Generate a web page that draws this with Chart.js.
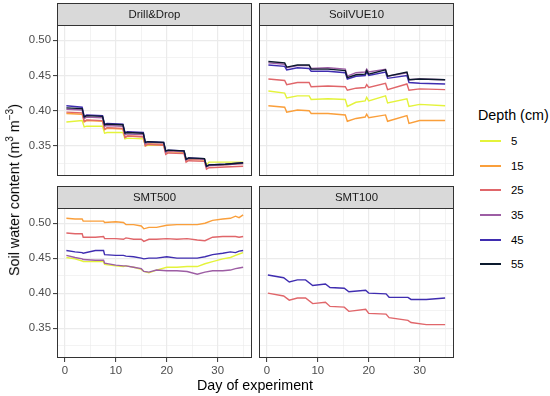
<!DOCTYPE html>
<html>
<head>
<meta charset="utf-8">
<script src="https://cdn.jsdelivr.net/npm/chart.js@4.4.0/dist/chart.umd.min.js"></script>
<style>
  body { margin: 0; background: #fff; width: 550px; height: 396px; position: relative; overflow: hidden;
         font-family: "Liberation Sans", Arial, sans-serif; }
  canvas { position: absolute; }
  .ytitle { position: absolute; left: 13px; top: 190px; transform: translate(-50%, -50%) rotate(-90deg);
            white-space: nowrap; font-size: 14.3px; color: #000; }
  .xtitle { position: absolute; left: 255px; top: 385px; transform: translate(-50%, -50%);
            white-space: nowrap; font-size: 14.3px; color: #000; }
  #legend { position: absolute; left: 478px; top: 106px; }
  #legend .ttl { font-size: 14.3px; color: #000; height: 18px; line-height: 18px; margin-bottom: 5px; }
  #legend .item { height: 24.6px; display: flex; align-items: center; font-size: 11.4px; color: #000; }
  #legend .key { width: 21px; height: 2px; margin: 0 10px 0 2px; }
</style>
</head>
<body>
<canvas id="pDD" width="256" height="174" style="left:0;top:3px"></canvas>
<canvas id="pSV" width="200" height="174" style="left:258px;top:3px"></canvas>
<canvas id="p500" width="256" height="193" style="left:0;top:185px"></canvas>
<canvas id="p100" width="200" height="193" style="left:258px;top:185px"></canvas>
<div class="ytitle">Soil water content (m<sup style="font-size:10px">3</sup> m<sup style="font-size:10px">−3</sup>)</div>
<div class="xtitle">Day of experiment</div>
<div id="legend"></div>
<script>
// --- data ---
const depths = [5, 15, 25, 35, 45, 55];
const yTicks = [0.35, 0.40, 0.45, 0.50];
const yMinor = [0.325, 0.375, 0.425, 0.475];
const xTicks = [0, 10, 20, 30];
const xMinor = [5, 15, 25, 35];

// Drill&Drop
const ddDays = [0.3, 3.4, 3.8, 4.3, 7.4, 7.8, 8.3, 11.4, 11.8, 12.3, 15.4, 15.8, 16.3, 19.4, 19.8, 20.3, 23.4, 23.8, 24.3, 27.4, 27.8, 28.3, 31.5, 35];
const dd5  = [0.384, 0.386, 0.377, 0.378, 0.378, 0.368, 0.369, 0.369, 0.360, 0.361, 0.360, 0.350, 0.351, 0.351, 0.341, 0.342, 0.342, 0.331, 0.332, 0.332, 0.323, 0.327, 0.327, 0.327];
const dd15 = [0.396, 0.395, 0.384, 0.386, 0.385, 0.373, 0.375, 0.374, 0.362, 0.364, 0.363, 0.351, 0.353, 0.352, 0.340, 0.342, 0.341, 0.329, 0.331, 0.330, 0.320, 0.322, 0.323, 0.325];
const dd25 = [0.398, 0.397, 0.385, 0.387, 0.386, 0.374, 0.376, 0.375, 0.362, 0.364, 0.363, 0.350, 0.352, 0.351, 0.338, 0.340, 0.339, 0.327, 0.329, 0.328, 0.317, 0.319, 0.320, 0.321];
const dd35 = [0.402, 0.401, 0.389, 0.391, 0.390, 0.378, 0.379, 0.378, 0.366, 0.367, 0.366, 0.353, 0.355, 0.354, 0.341, 0.343, 0.342, 0.330, 0.332, 0.331, 0.320, 0.322, 0.323, 0.325];
const dd45 = [0.407, 0.405, 0.392, 0.394, 0.393, 0.381, 0.382, 0.381, 0.369, 0.370, 0.369, 0.355, 0.356, 0.355, 0.343, 0.344, 0.343, 0.331, 0.333, 0.332, 0.321, 0.323, 0.324, 0.326];
const dd55 = [0.404, 0.403, 0.391, 0.393, 0.392, 0.380, 0.381, 0.380, 0.368, 0.369, 0.368, 0.355, 0.356, 0.355, 0.343, 0.344, 0.343, 0.331, 0.333, 0.332, 0.321, 0.323, 0.324, 0.326];

// SoilVUE10
const svDays = [0.3, 3.5, 3.9, 6, 8.3, 8.7, 12, 15.4, 15.8, 17.5, 19.3, 19.6, 20, 23.3, 23.7, 27.5, 27.9, 30, 35];
const sv5  = [0.428, 0.425, 0.418, 0.421, 0.421, 0.416, 0.417, 0.416, 0.406, 0.412, 0.414, 0.419, 0.414, 0.421, 0.411, 0.417, 0.406, 0.409, 0.407];
const sv15 = [0.407, 0.405, 0.398, 0.401, 0.400, 0.396, 0.396, 0.394, 0.385, 0.389, 0.391, 0.395, 0.390, 0.394, 0.385, 0.393, 0.382, 0.386, 0.386];
const sv25 = [0.445, 0.443, 0.437, 0.440, 0.440, 0.434, 0.435, 0.434, 0.429, 0.432, 0.433, 0.437, 0.433, 0.439, 0.430, 0.438, 0.429, 0.431, 0.430];
const sv35 = [0.468, 0.466, 0.461, 0.464, 0.464, 0.460, 0.461, 0.459, 0.449, 0.454, 0.455, 0.459, 0.455, 0.459, 0.449, 0.454, 0.444, 0.445, 0.444];
const sv45 = [0.465, 0.463, 0.458, 0.461, 0.460, 0.456, 0.456, 0.454, 0.445, 0.449, 0.450, 0.455, 0.450, 0.455, 0.446, 0.450, 0.440, 0.439, 0.438];
const sv55 = [0.470, 0.468, 0.462, 0.465, 0.465, 0.459, 0.459, 0.457, 0.447, 0.451, 0.452, 0.457, 0.452, 0.458, 0.449, 0.455, 0.444, 0.445, 0.444];

// SMT500
const s500Days = [0.3, 2, 3.4, 3.6, 6, 7.6, 7.8, 10, 11.5, 12, 13.5, 15, 15.5, 16.5, 18, 20, 22, 24, 26, 27.5, 29, 31, 32.5, 33.5, 34.2, 35];
const s500_5  = [0.451, 0.449, 0.446, 0.445, 0.445, 0.445, 0.441, 0.439, 0.438, 0.439, 0.437, 0.434, 0.431, 0.429, 0.433, 0.437, 0.437, 0.438, 0.438, 0.442, 0.445, 0.449, 0.451, 0.454, 0.456, 0.458];
const s500_15 = [0.507, 0.506, 0.506, 0.503, 0.503, 0.503, 0.501, 0.502, 0.501, 0.498, 0.498, 0.496, 0.492, 0.494, 0.494, 0.497, 0.498, 0.498, 0.498, 0.500, 0.504, 0.506, 0.507, 0.510, 0.508, 0.512];
const s500_25 = [0.486, 0.485, 0.485, 0.480, 0.480, 0.481, 0.478, 0.478, 0.477, 0.479, 0.477, 0.477, 0.474, 0.477, 0.477, 0.478, 0.477, 0.478, 0.476, 0.475, 0.480, 0.481, 0.481, 0.481, 0.480, 0.481];
const s500_35 = [0.454, 0.451, 0.449, 0.448, 0.447, 0.447, 0.443, 0.440, 0.439, 0.439, 0.437, 0.435, 0.431, 0.430, 0.433, 0.432, 0.432, 0.431, 0.427, 0.430, 0.432, 0.432, 0.433, 0.435, 0.436, 0.437];
const s500_45 = [0.461, 0.459, 0.458, 0.457, 0.461, 0.461, 0.455, 0.454, 0.454, 0.453, 0.452, 0.450, 0.449, 0.450, 0.450, 0.452, 0.450, 0.450, 0.450, 0.452, 0.455, 0.457, 0.459, 0.458, 0.460, 0.461];

// SMT100
const s100Days = [0.2, 3.3, 4.4, 6, 7.6, 9, 11.5, 12.4, 15.2, 16.1, 19.4, 20, 23.4, 24, 27.7, 28.3, 31.3, 35];
const s100_25 = [0.400, 0.396, 0.390, 0.393, 0.393, 0.385, 0.387, 0.381, 0.380, 0.374, 0.377, 0.371, 0.370, 0.365, 0.361, 0.358, 0.355, 0.355];
const s100_45 = [0.426, 0.422, 0.416, 0.419, 0.419, 0.411, 0.413, 0.408, 0.407, 0.402, 0.404, 0.400, 0.399, 0.394, 0.394, 0.391, 0.391, 0.393];

// --- styling ---
const depthColors = { 5: '#E4F33B', 15: '#FA9F3B', 25: '#E0666A', 35: '#9D5EA4', 45: '#3F2DB0', 55: '#0C1A2E' };
const FONT = '"Liberation Sans", Arial, sans-serif';

// shared scales like facet_wrap (5% expansion)
const allY = [dd5, dd15, dd25, dd35, dd45, dd55, sv5, sv15, sv25, sv35, sv45, sv55,
              s500_5, s500_15, s500_25, s500_35, s500_45, s100_25, s100_45].flat();
const allX = [ddDays, svDays, s500Days, s100Days].flat();
const yLo = Math.min(...allY), yHi = Math.max(...allY);
const xLo = Math.min(...allX), xHi = Math.max(...allX);
const yMin = yLo - (yHi - yLo) * 0.05, yMax = yHi + (yHi - yLo) * 0.05;
const xMin = xLo - (xHi - xLo) * 0.05, xMax = xHi + (xHi - xLo) * 0.05;

const isIn = (arr, v) => arr.some(t => Math.abs(t - v) < 1e-6);

const facetFrame = {
    id: 'facetFrame',
    afterDraw(chart, args, opts) {
        const { ctx, chartArea: a } = chart;
        const h = opts.stripH;
        ctx.save();
        ctx.fillStyle = '#D9D9D9';
        ctx.fillRect(a.left, a.top - h, a.right - a.left, h);
        ctx.strokeStyle = '#333333';
        ctx.lineWidth = 1;
        ctx.strokeRect(a.left + 0.5, a.top - h + 0.5, a.right - a.left - 1, h);
        ctx.strokeRect(a.left + 0.5, a.top + 0.5, a.right - a.left - 1, a.bottom - a.top - 1);
        ctx.fillStyle = '#1A1A1A';
        ctx.font = '11.4px ' + FONT;
        ctx.textAlign = 'center';
        ctx.textBaseline = 'middle';
        ctx.fillText(opts.title, (a.left + a.right) / 2, a.top - h / 2 + 0.5);
        ctx.restore();
    }
};

const makePanel = (id, title, days, seriesByDepth, showY, showX, padding) => {
    const datasets = Object.keys(seriesByDepth).map(d => ({
        label: d,
        data: seriesByDepth[d].map((v, i) => ({ x: days[i], y: v })),
        borderColor: depthColors[d],
        borderWidth: 1.4,
        pointRadius: 0,
        tension: 0,
        order: 100 - Number(d)
    }));
    new Chart(document.getElementById(id), {
        type: 'line',
        data: { datasets },
        plugins: [facetFrame],
        options: {
            responsive: false,
            animation: false,
            layout: { padding },
            scales: {
                x: {
                    type: 'linear', min: xMin, max: xMax,
                    afterBuildTicks: s => { s.ticks = [...xTicks, ...xMinor].sort((a, b) => a - b).map(v => ({ value: v })); },
                    afterFit: s => {
                        s.height = showX ? 20 : 0;
                        s.paddingLeft = 0; s.paddingRight = 0;
                    },
                    border: { display: false },
                    grid: {
                        color: '#EBEBEB',
                        lineWidth: c => isIn(xTicks, c.tick.value) ? 1.2 : 0.6,
                        drawTicks: showX, tickLength: 4, tickWidth: 1,
                        tickColor: c => isIn(xTicks, c.tick.value) ? '#333333' : 'rgba(0,0,0,0)'
                    },
                    ticks: {
                        display: showX, padding: 2, color: '#4D4D4D', maxRotation: 0, autoSkip: false,
                        font: { size: 11.4, family: FONT },
                        callback: v => isIn(xTicks, v) ? String(v) : ''
                    }
                },
                y: {
                    type: 'linear', min: yMin, max: yMax,
                    afterBuildTicks: s => { s.ticks = [...yTicks, ...yMinor].sort((a, b) => a - b).map(v => ({ value: v })); },
                    afterFit: s => {
                        s.width = showY ? 57 : 0;
                        s.paddingTop = 0; s.paddingBottom = 0;
                    },
                    border: { display: false },
                    grid: {
                        color: '#EBEBEB',
                        lineWidth: c => isIn(yTicks, c.tick.value) ? 1.2 : 0.6,
                        drawTicks: showY, tickLength: 4, tickWidth: 1,
                        tickColor: c => isIn(yTicks, c.tick.value) ? '#333333' : 'rgba(0,0,0,0)'
                    },
                    ticks: {
                        display: showY, padding: 2, color: '#4D4D4D', autoSkip: false,
                        font: { size: 11.4, family: FONT },
                        callback: v => isIn(yTicks, v) ? v.toFixed(2) : ''
                    }
                }
            },
            plugins: {
                legend: { display: false },
                tooltip: { enabled: false },
                facetFrame: { title, stripH: 22 }
            }
        }
    });
};

makePanel('pDD', 'Drill&Drop', ddDays, { 5: dd5, 15: dd15, 25: dd25, 35: dd35, 45: dd45, 55: dd55 },
    true, false, { top: 22, left: 0, right: 4, bottom: 1 });
makePanel('pSV', 'SoilVUE10', svDays, { 5: sv5, 15: sv15, 25: sv25, 35: sv35, 45: sv45, 55: sv55 },
    false, false, { top: 22, left: 1, right: 4, bottom: 1 });
makePanel('p500', 'SMT500', s500Days, { 5: s500_5, 15: s500_15, 25: s500_25, 35: s500_35, 45: s500_45 },
    true, true, { top: 23, left: 0, right: 4, bottom: 0 });
makePanel('p100', 'SMT100', s100Days, { 25: s100_25, 45: s100_45 },
    false, true, { top: 23, left: 1, right: 4, bottom: 0 });

// legend
const legend = document.getElementById('legend');
legend.innerHTML = '<div class="ttl">Depth (cm)</div>' + depths.map(d =>
    `<div class="item"><span class="key" style="background:${depthColors[d]}"></span>${d}</div>`).join('');
</script>
</body>
</html>
